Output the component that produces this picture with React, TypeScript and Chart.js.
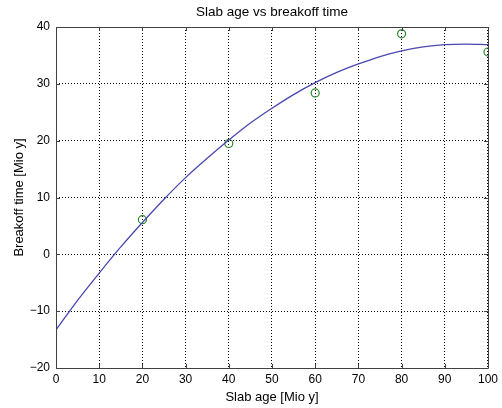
import React, { useEffect, useRef } from "react";
import { Chart, registerables } from "chart.js";

Chart.register(...registerables);

const chartTitle = "Slab age vs breakoff time";
const xTitle = "Slab age [Mio y]";
const yTitle = "Breakoff time [Mio y]";

const sampleAges = [20, 40, 60, 80, 100];
const sampleTimes = [6.1, 19.5, 28.4, 38.8, 35.6];

const fitAges = [0, 5, 10, 15, 20, 25, 30, 35, 40, 45, 50, 55, 60, 65, 70, 75, 80, 85, 90, 95, 100];
const fitTimes = [-13.3, -8.1, -3.3, 1.3, 5.6, 9.7, 13.5, 16.9, 20.1, 23.1, 25.7, 28.1, 30.2, 32.0, 33.5, 34.8, 35.8, 36.5, 36.9, 37.0, 36.9];

const xTicks = [0, 10, 20, 30, 40, 50, 60, 70, 80, 90, 100];
const yTicks = [-20, -10, 0, 10, 20, 30, 40];

const FONT = "Arial, 'Liberation Sans', sans-serif";

const boxPlugin = {
  id: "matlabBox",
  afterDatasetsDraw(chart: any) {
    const { ctx, chartArea, scales } = chart;
    const { left, right, top, bottom } = chartArea;
    ctx.save();
    ctx.strokeStyle = "#404040";
    ctx.lineWidth = 1;
    ctx.beginPath();
    const tl = 4;
    for (const v of xTicks) {
      const x = Math.round(scales.x.getPixelForValue(v)) + 0.5;
      ctx.moveTo(x, bottom);
      ctx.lineTo(x, bottom - tl);
      ctx.moveTo(x, top);
      ctx.lineTo(x, top + tl);
    }
    for (const v of yTicks) {
      const y = Math.round(scales.y.getPixelForValue(v)) + 0.5;
      ctx.moveTo(left, y);
      ctx.lineTo(left + tl, y);
      ctx.moveTo(right, y);
      ctx.lineTo(right - tl, y);
    }
    ctx.stroke();
    ctx.beginPath();
    ctx.rect(Math.round(left) + 0.5, Math.round(top) + 0.5, Math.round(right - left), Math.round(bottom - top));
    ctx.stroke();
    ctx.restore();
  },
  afterDraw(chart: any) {
    const { ctx, chartArea } = chart;
    ctx.save();
    ctx.fillStyle = "#000";
    ctx.font = `13.5px ${FONT}`;
    ctx.textAlign = "center";
    ctx.textBaseline = "middle";
    ctx.fillText(chartTitle, (chartArea.left + chartArea.right) / 2, 12.5);
    ctx.restore();
  },
};

export default function App() {
  const ref = useRef<HTMLCanvasElement>(null);
  useEffect(() => {
    document.body.style.margin = "0";
    const canvas = ref.current!;
    const chart = new Chart(canvas, {
      type: "line",
      data: {
        datasets: [
          {
            label: "fit",
            data: fitAges.map((a, i) => ({ x: a, y: fitTimes[i] })),
            borderColor: "#4a48b0",
            borderWidth: 1.3,
            pointRadius: 0,
            tension: 0.4,
            cubicInterpolationMode: "monotone",
            fill: false,
          },
          {
            label: "data",
            type: "scatter",
            data: sampleAges.map((a, i) => ({ x: a, y: sampleTimes[i] })),
            showLine: false,
            pointStyle: "circle",
            pointRadius: 4,
            pointBorderWidth: 1.2,
            pointBorderColor: "#2a8a2a",
            pointBackgroundColor: "rgba(0,0,0,0)",
            borderColor: "#2a8a2a",
          },
        ] as any,
      },
      options: {
        animation: false,
        responsive: false,
        maintainAspectRatio: false,
        layout: { padding: { left: 0, right: 13, top: 27, bottom: 0 } },
        plugins: {
          legend: { display: false },
          tooltip: { enabled: false },
          title: { display: false },
        },
        scales: {
          x: {
            type: "linear",
            min: 0,
            max: 100,
            afterBuildTicks: (s: any) => {
              s.ticks = xTicks.map((v) => ({ value: v }));
            },
            afterFit: (s: any) => {
              s.height = 40;
            },
            ticks: {
              color: "#000",
              font: { family: FONT, size: 12 },
              padding: 4,
              maxRotation: 0,
              autoSkip: false,
            },
            grid: { color: "#000", drawTicks: false, lineWidth: 1 },
            border: { display: false, dash: [1, 2] },
            title: {
              display: true,
              text: xTitle,
              color: "#000",
              font: { family: FONT, size: 13, lineHeight: 1.2 },
              padding: { top: 0, bottom: 3.2 },
            },
          },
          y: {
            type: "linear",
            min: -20,
            max: 40,
            afterBuildTicks: (s: any) => {
              s.ticks = yTicks.map((v) => ({ value: v }));
            },
            afterFit: (s: any) => {
              s.width = 56;
            },
            ticks: {
              color: "#000",
              font: { family: FONT, size: 12 },
              padding: 6,
              autoSkip: false,
              callback: (v: any) => (Number(v) < 0 ? "\u2212" + Math.abs(Number(v)) : String(v)),
            },
            grid: { color: "#000", drawTicks: false, lineWidth: 1 },
            border: { display: false, dash: [1, 2] },
            title: {
              display: true,
              text: yTitle,
              color: "#000",
              font: { family: FONT, size: 13, lineHeight: 1.2 },
              padding: 11.5,
            },
          },
        },
      },
      plugins: [boxPlugin],
    });
    return () => chart.destroy();
  }, []);
  return (
    <div style={{ position: "absolute", left: 0, top: 0, width: 502, height: 408, background: "#fff" }}>
      <canvas ref={ref} width={502} height={408} style={{ width: 502, height: 408 }} />
    </div>
  );
}
